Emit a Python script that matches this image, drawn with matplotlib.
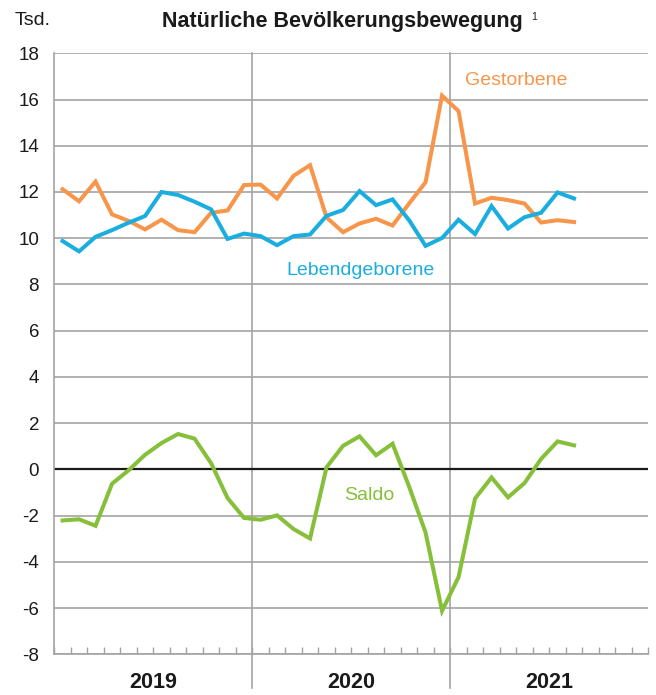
import matplotlib
matplotlib.use("Agg")
import matplotlib.pyplot as plt
import matplotlib.transforms as mtransforms
import numpy as np

plt.rcParams['font.family'] = ['Liberation Sans', 'DejaVu Sans']

years = ["2019", "2020", "2021"]
lebendgeborene = [9.88, 9.43, 10.06, 10.35, 10.67, 10.96, 12.0, 11.87, 11.58, 11.25, 9.97, 10.2,
                  10.09, 9.7, 10.09, 10.16, 10.97, 11.22, 12.04, 11.43, 11.68, 10.78, 9.67, 10.01,
                  10.8, 10.18, 11.39, 10.42, 10.91, 11.1, 11.98, 11.72]
gestorbene = [12.12, 11.6, 12.45, 11.03, 10.75, 10.38, 10.8, 10.35, 10.26, 11.1, 11.2, 12.3,
              12.32, 11.72, 12.7, 13.16, 10.9, 10.26, 10.64, 10.84, 10.55, 11.5, 12.42, 16.17,
              15.5, 11.5, 11.75, 11.65, 11.5, 10.68, 10.78, 10.7]
saldo = [-2.21, -2.16, -2.44, -0.62, -0.04, 0.63, 1.14, 1.53, 1.33, 0.27, -1.24, -2.1,
         -2.18, -1.99, -2.58, -2.99, 0.09, 1.02, 1.43, 0.61, 1.11, -0.74, -2.73, -6.12,
         -4.66, -1.26, -0.35, -1.21, -0.59, 0.45, 1.21, 1.04]
yticks = [-8, -6, -4, -2, 0, 2, 4, 6, 8, 10, 12, 14, 16, 18]

c_orange = "#F7964A"
c_blue = "#1AAEE0"
c_green = "#86BF3A"
c_grid = "#A3A3A3"
c_text = "#1a1a1a"

W, H = 656, 695
fig = plt.figure(figsize=(W / 100, H / 100), dpi=100)
left, right, top, bottom = 54.3, 648.3, 53.3, 654.3
ax = fig.add_axes([left / W, 1 - bottom / H, (right - left) / W, (bottom - top) / H])

n_months = 12 * len(years)
ax.set_xlim(0, n_months)
ax.set_ylim(-8, 18)

x = np.arange(len(lebendgeborene)) + 0.5

# grid
for v in yticks:
    if v == 0:
        continue
    ax.axhline(v, color=c_grid, lw=1.2, zorder=1)
ax.axhline(0, color=c_text, lw=1.6, zorder=2)

axis_h = (bottom - top) / H
ymin_ext = ((H - 688) / H - (1 - bottom / H)) / axis_h
for k in range(1, len(years)):
    ax.axvline(12 * k, ymin=ymin_ext, ymax=1, color=c_grid, lw=1.2, clip_on=False, zorder=1)

ax.plot(x, gestorbene, color=c_orange, lw=2.9, zorder=3, solid_joinstyle='miter')
ax.plot(x, lebendgeborene, color=c_blue, lw=2.9, zorder=3, solid_joinstyle='miter')
ax.plot(x, saldo, color=c_green, lw=2.9, zorder=3, solid_joinstyle='miter')

for s in ["top", "right"]:
    ax.spines[s].set_visible(False)
for s in ["left", "bottom"]:
    ax.spines[s].set_color(c_grid)
    ax.spines[s].set_linewidth(1.2)

ax.set_yticks(yticks)
ax.set_yticklabels([str(v) for v in yticks])
ax.tick_params(axis='y', length=0, pad=11, labelsize=13.5, labelcolor=c_text)
ax.set_xticks(np.arange(0, n_months + 1))
ax.set_xticklabels([])
ax.tick_params(axis='x', direction='in', length=5, width=1.0, color=c_grid)

trans = mtransforms.blended_transform_factory(ax.transData, ax.transAxes)
year_y = ((H - 688) / H - (1 - bottom / H)) / axis_h
for i, yr in enumerate(years):
    ax.text(12 * i + 6, year_y, yr, transform=trans, ha='center', va='baseline',
            fontsize=15.5, fontweight='bold', color=c_text)

ax.text(28.0, 16.82, "Gestorbene", color=c_orange, fontsize=14, ha='center', va='center')
ax.text(18.55, 8.62, "Lebendgeborene", color=c_blue, fontsize=14, ha='center', va='center')
ax.text(19.1, -1.12, "Saldo", color=c_green, fontsize=14, ha='center', va='center')

fig.text(15 / W, 1 - 25 / H, "Tsd.", fontsize=14, ha='left', va='baseline', color=c_text)
fig.text(342.5 / W, 1 - 26.5 / H, "Natürliche Bevölkerungsbewegung", fontsize=15.5,
         fontweight='bold', ha='center', va='baseline', color=c_text)
fig.text(531 / W, 1 - 20 / H, "1", fontsize=7.5, ha='left', va='baseline', color=c_text)

fig.savefig("out.png", dpi=100)
